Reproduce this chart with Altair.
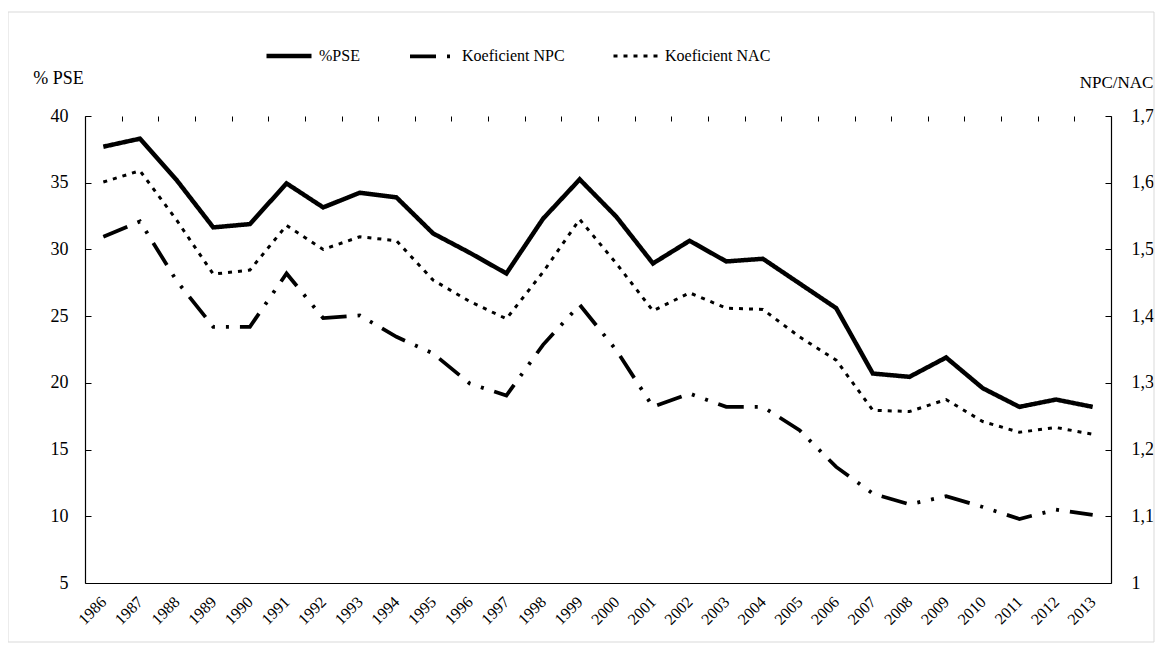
import altair as alt
import pandas as pd

years = [str(y) for y in range(1986, 2014)]
pse = [37.7, 38.3, 35.2, 31.65, 31.9, 34.95, 33.15, 34.25, 33.9, 31.2, 29.75, 28.2, 32.3, 35.25,
       32.45, 28.95, 30.65, 29.1, 29.3, 27.45, 25.6, 20.7, 20.45, 21.9, 19.6, 18.2, 18.75, 18.2]
npc = [1.519, 1.542, 1.453, 1.384, 1.384, 1.464, 1.397, 1.401, 1.369, 1.344, 1.299, 1.281, 1.357, 1.417,
       1.349, 1.264, 1.284, 1.264, 1.264, 1.229, 1.174, 1.134, 1.118, 1.130, 1.114, 1.096, 1.110, 1.102]
nac = [1.601, 1.618, 1.544, 1.463, 1.469, 1.536, 1.500, 1.519, 1.513, 1.454, 1.422, 1.396, 1.466, 1.545,
       1.479, 1.408, 1.435, 1.412, 1.410, 1.369, 1.334, 1.259, 1.257, 1.275, 1.242, 1.226, 1.233, 1.223]
series = ["%PSE", "Koeficient NPC", "Koeficient NAC"]
left_ticks = [5, 10, 15, 20, 25, 30, 35, 40]
right_ticks = [1.0, 1.1, 1.2, 1.3, 1.4, 1.5, 1.6, 1.7]

df = pd.DataFrame({
    "year": years * 3,
    "series": [series[0]] * 28 + [series[1]] * 28 + [series[2]] * 28,
    "value": pse + npc + nac,
})

FONT = "Liberation Serif"
dashes = [[1, 0], [26, 11, 3, 11, 3, 11], [4, 6]]
widths = [4.5, 3, 4]

leg = alt.Legend(title=None, orient="none", legendX=179, legendY=-85, direction="horizontal",
                 symbolType="stroke", symbolSize=2025, symbolStrokeColor="black",
                 labelFont=FONT, labelFontSize=16, labelColor="black", columnPadding=42,
                 labelOffset=5, padding=0, labelLimit=0)

x_enc = alt.X("year:O", title=None, bandPosition=0.5,
              scale=alt.Scale(type="band", domain=years, paddingInner=0, paddingOuter=0),
              axis=alt.Axis(tickBand="extent", ticks=False, grid=True, gridDash=[5, 5000],
                            gridColor="black", gridWidth=1, domainColor="black", domainWidth=1.2,
                            labelAngle=-45, labelAlign="right", labelBaseline="middle",
                            labelPadding=16, labelFont=FONT, labelFontSize=16, labelColor="black"))

dash_enc = alt.StrokeDash("series:N", scale=alt.Scale(domain=series, range=dashes), legend=leg)
width_enc = alt.StrokeWidth("series:N", scale=alt.Scale(domain=series, range=widths), legend=leg)

base = alt.Chart(df)

left = base.transform_filter(alt.datum.series == "%PSE").mark_line(color="black", strokeCap="butt").encode(
    x=x_enc,
    y=alt.Y("value:Q", scale=alt.Scale(domain=[5, 40], nice=False, zero=False),
            axis=alt.Axis(orient="left", values=left_ticks, ticks=False, grid=True, gridDash=[6, 5000],
                          gridColor="black", gridWidth=1, domainColor="black", domainWidth=1.2,
                          labelFont=FONT, labelFontSize=18, labelColor="black", labelPadding=17,
                          title="% PSE", titleAngle=0, titleX=-27, titleY=-38, titleAlign="center",
                          titleBaseline="middle", titleFont=FONT, titleFontSize=18,
                          titleFontWeight="normal", titleColor="black")),
    strokeDash=dash_enc,
    strokeWidth=width_enc,
)

right = base.transform_filter(alt.datum.series != "%PSE").mark_line(color="black", strokeCap="butt").encode(
    x=x_enc,
    y=alt.Y("value:Q", scale=alt.Scale(domain=[1, 1.7], nice=False, zero=False),
            axis=alt.Axis(orient="right", values=right_ticks, ticks=False, grid=True, gridDash=[6, 5000],
                          gridColor="black", gridWidth=1, domainColor="black", domainWidth=1.2,
                          labelExpr="replace(format(datum.value, '.1~f'), '.', ',')",
                          labelFont=FONT, labelFontSize=18, labelColor="black", labelPadding=20,
                          title="NPC/NAC", titleAngle=0, titleX=5, titleY=-34, titleAlign="center",
                          titleBaseline="middle", titleFont=FONT, titleFontSize=17,
                          titleFontWeight="normal", titleColor="black")),
    strokeDash=dash_enc,
    strokeWidth=width_enc,
)

frame = alt.Chart(pd.DataFrame({"a": [0]})).mark_rect(fillOpacity=0, stroke="#d9d9d9", strokeWidth=1).encode(
    x=alt.value(-77), x2=alt.value(1069), y=alt.value(-104), y2=alt.value(526)
)

chart = alt.layer(left, right, frame).resolve_scale(y="independent").properties(
    width=1026, height=467,
    padding={"left": 77, "top": 108, "right": 45, "bottom": 61},
    autosize=alt.AutoSizeParams(type="none"),
    background="white",
).configure_view(stroke=None)

chart.save("out.html", embed_options={"renderer": "svg", "actions": False})
